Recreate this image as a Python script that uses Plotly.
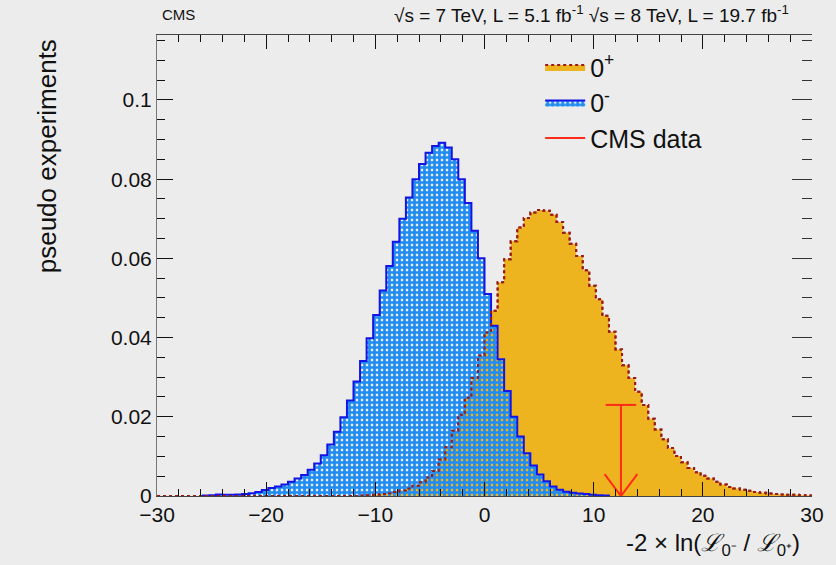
import numpy as np
import plotly.graph_objects as go

# ---------------- data ----------------
bin_width = 0.6
x_min, x_max = -30.0, 30.0
n_bins = 100

# 0- hypothesis pseudo-experiments, bins starting at centre -25.5
blue_first_center = -25.5
blue_values = [
    0.0001, 0.0002, 0.0004, 0.0003, 0.0003, 0.0004, 0.0005, 0.0007, 0.0010, 0.0015,
    0.0020, 0.0024, 0.0029, 0.0036, 0.0044, 0.0053, 0.0066, 0.0082, 0.0103, 0.0130,
    0.0162, 0.0199, 0.0241, 0.0289, 0.0341, 0.0398, 0.0457, 0.0519, 0.0581, 0.0642,
    0.0700, 0.0754, 0.0800, 0.0838, 0.0867, 0.0884, 0.0892, 0.0880, 0.0850, 0.0800,
    0.0740, 0.0670, 0.0600, 0.0510, 0.0430, 0.0345, 0.0265, 0.0200, 0.0150, 0.0108,
    0.0077, 0.0054, 0.0037, 0.0024, 0.0016, 0.0011, 0.0008, 0.0006, 0.0005, 0.0003,
    0.0002, 0.0001,
]

# 0+ hypothesis pseudo-experiments, bins starting at centre -11.1
orange_first_center = -11.1
orange_values = [
    0.0001, 0.0002, 0.0003, 0.0005, 0.0007, 0.0010, 0.0014, 0.0019, 0.0026, 0.0035,
    0.0047, 0.0063, 0.0092, 0.0123, 0.0165, 0.0205, 0.0248, 0.0298, 0.0355, 0.0413,
    0.0468, 0.0540, 0.0598, 0.0643, 0.0678, 0.0702, 0.0716, 0.0722, 0.0720, 0.0710,
    0.0692, 0.0665, 0.0637, 0.0606, 0.0570, 0.0531, 0.0497, 0.0455, 0.0415, 0.0370,
    0.0330, 0.0298, 0.0263, 0.0230, 0.0195, 0.0168, 0.0143, 0.0121, 0.0101, 0.0085,
    0.0071, 0.0060, 0.0051, 0.0044, 0.0036, 0.0029, 0.0023, 0.0019, 0.0016, 0.0013,
    0.0010, 0.0008, 0.0006, 0.0005, 0.0004, 0.0003, 0.0003, 0.0002, 0.0001,
]

# observed CMS value and arrow length
cms_data_value = 12.5
cms_arrow_height = 0.023

x_tick_values = [-30, -20, -10, 0, 10, 20, 30]
y_tick_values = [0, 0.02, 0.04, 0.06, 0.08, 0.1]
y_max = 0.1164

# ---------------- helpers ----------------
edges = x_min + bin_width * np.arange(n_bins + 1)
centers = edges[:-1] + bin_width / 2


def hist_steps(first_center, values):
    """Step outline of the populated bins, closed down to zero at both ends."""
    i0 = int(round((first_center - centers[0]) / bin_width))
    e = edges[i0:i0 + len(values) + 1]
    xs = [e[0]] + list(e)
    ys = [0.0] + list(values) + [0.0]
    return xs, ys


bx, by = hist_steps(blue_first_center, blue_values)
ox, oy = hist_steps(orange_first_center, orange_values)
# the 0+ outline runs along zero over the full range, as in the reference
ox_full = [x_min] + ox + [x_max]
oy_full = [0.0] + oy + [0.0]

ORANGE = "#eeb420"
ORANGE_LINE = "#9a1c14"
BLUE_FG = "#1e8cf2"
BLUE_LINE = "#1414e6"
RED = "#ff2a18"
BG = "#ececec"
FONT = "Liberation Sans, Arial, sans-serif"

fig = go.Figure()

# 0+ filled histogram
fig.add_trace(go.Scatter(
    x=ox_full, y=oy_full, mode="lines", line_shape="hv",
    fill="tozeroy", fillcolor=ORANGE,
    line=dict(color=ORANGE_LINE, width=2, dash="dot"),
    name="0<sup>+</sup>", hoverinfo="skip",
))

# 0- hatched histogram
fig.add_trace(go.Scatter(
    x=bx, y=by, mode="lines", line_shape="hv",
    fill="tozeroy", fillcolor="rgba(0,0,0,0)",
    fillpattern=dict(shape="+", fgcolor=BLUE_FG, bgcolor="rgba(0,0,0,0)",
                     size=5, solidity=0.78, fillmode="replace"),
    line=dict(color=BLUE_LINE, width=2),
    name="0<sup>-</sup>", hoverinfo="skip",
))

# 0+ dotted outline on top
fig.add_trace(go.Scatter(
    x=ox_full, y=oy_full, mode="lines", line_shape="hv",
    line=dict(color=ORANGE_LINE, width=2, dash="dot"),
    showlegend=False, hoverinfo="skip",
))

# CMS data arrow
hw = 1.5
head = 0.0055
bar = 1.4
ax = [cms_data_value - bar, cms_data_value + bar, None,
      cms_data_value, cms_data_value, None,
      cms_data_value - hw, cms_data_value, cms_data_value + hw]
ay = [cms_arrow_height, cms_arrow_height, None,
      cms_arrow_height, 0, None,
      head, 0, head]
fig.add_trace(go.Scatter(
    x=ax, y=ay, mode="lines", line=dict(color=RED, width=2),
    name="CMS data", yaxis="y2", hoverinfo="skip",
))

tickfont = dict(family=FONT, size=21, color="#111")

fig.update_layout(
    width=836, height=565,
    margin=dict(l=157, r=16, t=35, b=69),
    paper_bgcolor=BG, plot_bgcolor=BG,
    font=dict(family=FONT, color="#111"),
    xaxis=dict(
        range=[x_min, x_max], tickvals=x_tick_values,
        ticks="inside", ticklen=14, tickcolor="#111", tickwidth=1,
        minor=dict(dtick=2, ticklen=7, ticks="inside", tickcolor="#111"),
        showline=True, linecolor="#444", linewidth=1, mirror="ticks",
        showgrid=False, zeroline=False, tickfont=tickfont,
    ),
    yaxis=dict(
        range=[0, y_max], tickvals=y_tick_values,
        ticks="inside", ticklen=16, tickcolor="#111",
        minor=dict(dtick=0.005, ticklen=8, ticks="inside", tickcolor="#111"),
        showline=True, linecolor="#777", linewidth=1,
        showgrid=False, zeroline=False, tickfont=tickfont,
    ),
    yaxis2=dict(
        overlaying="y", side="right", matches="y",
        ticks="inside", ticklen=20, tickcolor="#333", tickvals=y_tick_values,
        minor=dict(dtick=0.005, ticklen=10, ticks="inside", tickcolor="#333"),
        showticklabels=False, showline=False, showgrid=False, zeroline=False,
    ),
    legend=dict(
        x=0.585, y=0.98, xanchor="left", yanchor="top",
        bgcolor="rgba(0,0,0,0)", font=dict(family=FONT, size=25, color="#111"),
        itemwidth=40, traceorder="normal",
    ),
    showlegend=True,
)

fig.add_annotation(
    text="pseudo experiments", textangle=-90,
    xref="paper", yref="paper", x=-0.168, y=0.995,
    xanchor="center", yanchor="top", showarrow=False,
    font=dict(family=FONT, size=26, color="#111"),
)
fig.add_annotation(
    text="-2 × ln(<i>ℒ</i><sub>0⁻</sub> / <i>ℒ</i><sub>0⁺</sub>)",
    xref="paper", yref="paper", x=0.985, y=-0.105,
    xanchor="right", yanchor="middle", showarrow=False,
    font=dict(family=FONT, size=24, color="#111"),
)
fig.add_annotation(
    text="CMS", xref="paper", yref="paper", x=0.004, y=1.045,
    xanchor="left", yanchor="middle", showarrow=False,
    font=dict(family=FONT, size=15, color="#111"),
)
fig.add_annotation(
    text="√s = 7 TeV, L = 5.1 fb<sup>-1</sup> √s = 8 TeV, L = 19.7 fb<sup>-1</sup>",
    xref="paper", yref="paper", x=0.968, y=1.045,
    xanchor="right", yanchor="middle", showarrow=False,
    font=dict(family=FONT, size=19, color="#111"),
)

fig.write_html("out.html")
